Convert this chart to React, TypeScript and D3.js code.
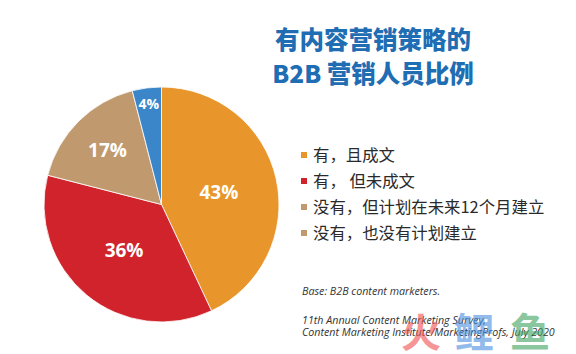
import React, { useRef, useEffect } from "react";
import * as d3 from "d3";

const categories = ["有，且成文", "有， 但未成文", "没有，但计划在未来12个月建立", "没有，也没有计划建立"];
const values = [43, 36, 17, 4];
const sliceColors = ["#E8962B", "#D0232B", "#C09A6E", "#3A86C8"];
const legendColors = ["#E8962B", "#D0232B", "#C09A6E", "#C09A6E"];
const titleLines = ["有内容营销策略的", "B2B 营销人员比例"];
const notes = ["Base: B2B content marketers.", "11th Annual Content Marketing Survey,", "Content Marketing Institute/MarketingProfs, July 2020"];

function App() {
  const svgRef = useRef<SVGSVGElement>(null);

  useEffect(() => {
    const width = 576;
    const height = 354;
    const svg = d3.select(svgRef.current)
      .attr("width", width)
      .attr("height", height);

    svg.selectAll("*").remove();

    svg.append("rect").attr("width", width).attr("height", height).attr("fill", "#fff");

    const cx = 161.5;
    const cy = 204.5;
    const R = 117.5;

    const pie = d3.pie<number>().sort(null).value(d => d);
    const arcs = pie(values);
    const arc = d3.arc<d3.PieArcDatum<number>>().innerRadius(0).outerRadius(R);

    const g = svg.append("g").attr("transform", `translate(${cx},${cy})`);

    // SLICES
    g.selectAll("path")
      .data(arcs)
      .enter()
      .append("path")
      .attr("d", arc)
      .attr("fill", (_, i) => sliceColors[i])
      .attr("stroke", "#fff")
      .attr("stroke-width", 0.8);

    // LABELS: small slices pushed outward (best-fit style)
    const labelFrac = (v: number) => (v >= 30 ? 0.5 : v >= 10 ? 0.65 : 0.86);
    g.selectAll("text.lbl")
      .data(arcs)
      .enter()
      .append("text")
      .attr("class", "lbl")
      .attr("transform", d => {
        const r = R * labelFrac(d.data);
        const a = (d.startAngle + d.endAngle) / 2;
        return `translate(${r * Math.sin(a)},${-r * Math.cos(a)})`;
      })
      .attr("text-anchor", "middle")
      .attr("dy", "0.36em")
      .attr("font-family", "'Open Sans', 'DejaVu Sans', sans-serif")
      .attr("font-weight", "bold")
      .attr("font-size", d => (d.data < 10 ? 14 : 19))
      .attr("fill", "#fff")
      .text(d => `${d.data}%`);

    // TITLE
    svg.append("g")
      .selectAll("text")
      .data(titleLines)
      .enter()
      .append("text")
      .attr("x", 373)
      .attr("y", (_, i) => 49 + i * 34)
      .attr("text-anchor", "middle")
      .attr("font-family", "'Noto Sans CJK SC', sans-serif")
      .attr("font-weight", 900)
      .attr("font-size", 24.5)
      .attr("fill", "#1F6DB3")
      .text(d => d);

    // LEGEND
    const legend = svg.append("g")
      .selectAll("g")
      .data(categories)
      .enter()
      .append("g")
      .attr("transform", (_, i) => `translate(301,${155 + i * 26})`);

    legend.append("rect")
      .attr("x", 0)
      .attr("y", -3)
      .attr("width", 6)
      .attr("height", 6)
      .attr("fill", (_, i) => legendColors[i]);

    legend.append("text")
      .attr("x", 12)
      .attr("dy", "0.36em")
      .attr("font-family", "'Noto Sans CJK SC', sans-serif")
      .attr("font-size", 16.4)
      .attr("fill", "#2a2a2a")
      .text(d => d);

    // NOTES
    svg.append("g")
      .selectAll("text")
      .data(notes)
      .enter()
      .append("text")
      .attr("x", 302)
      .attr("y", (_, i) => (i === 0 ? 295 : 312 + i * 12))
      .attr("font-family", "'Open Sans', sans-serif")
      .attr("font-style", "italic")
      .attr("font-size", 10.7)
      .attr("fill", "#333")
      .text(d => d);

    // WATERMARK
    const wm = [["火", "#F0504F", 421], ["鲤", "#4A8FE0", 474], ["鱼", "#3EA35E", 530]];
    svg.append("g")
      .selectAll("text")
      .data(wm)
      .enter()
      .append("text")
      .attr("x", d => d[2] as number)
      .attr("y", 347)
      .attr("text-anchor", "middle")
      .attr("font-family", "'Noto Sans CJK SC', sans-serif")
      .attr("font-weight", "bold")
      .attr("font-size", 40)
      .attr("fill", d => d[1] as string)
      .attr("opacity", 0.6)
      .text(d => d[0] as string);
  }, []);

  return <svg ref={svgRef} style={{ position: "absolute", left: 0, top: 0 }}></svg>;
}

export default App;
